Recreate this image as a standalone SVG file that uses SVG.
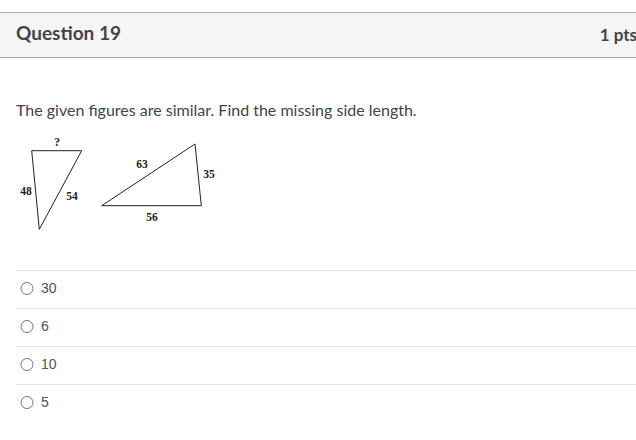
<svg xmlns="http://www.w3.org/2000/svg" width="636" height="440" viewBox="0 0 636 440">
<style>
.ui{font-family:Lato,"Liberation Sans",sans-serif;fill:#2d3b45}
.fig{font-family:"Liberation Serif","Times New Roman",serif;font-size:11.5px;font-weight:bold;fill:#222}
.tri{fill:none;stroke:#222;stroke-width:1}
.sep{stroke:#e1e4e6;stroke-width:1}
.radio{fill:#fff;stroke:#6b7780;stroke-width:1}
.opt{font-family:"Liberation Sans",Arial,sans-serif;font-size:14px;fill:#4a545c}
</style>
<rect width="636" height="440" fill="#fff"/>
<g id="header">
<rect x="0" y="12.5" width="636" height="45" fill="#f5f5f5"/>
<line x1="0" y1="12.5" x2="636" y2="12.5" stroke="#a9a9a9"/>
<line x1="0" y1="57.5" x2="636" y2="57.5" stroke="#a9a9a9"/>
<text class="ui" x="16" y="40" font-size="19" font-weight="bold" style="fill:#3d464d">Question 19</text>
<text class="ui" x="637" y="41" font-size="17" font-weight="bold" text-anchor="end" style="fill:#3d464d">1 pts</text>
</g>
<text class="ui" x="16" y="116" font-size="16" style="fill:#3d464d">The given figures are similar. Find the missing side length.</text>
<g id="triangle-left">
<polygon class="tri" points="31.7,150.7 81.7,150.7 39.3,229.3"/>
<text class="fig" x="57" y="146" text-anchor="middle">?</text>
<text class="fig" x="26" y="195" text-anchor="middle">48</text>
<text class="fig" x="72" y="200" text-anchor="middle">54</text>
</g>
<g id="triangle-right">
<polygon class="tri" points="101.7,205.7 195,144 201.3,205.7"/>
<text class="fig" x="142" y="168" text-anchor="middle">63</text>
<text class="fig" x="209" y="178" text-anchor="middle">35</text>
<text class="fig" x="152" y="221" text-anchor="middle">56</text>
</g>
<g id="options">
<line class="sep" x1="16" y1="270.5" x2="636" y2="270.5"/>
<line class="sep" x1="16" y1="308.5" x2="636" y2="308.5"/>
<line class="sep" x1="16" y1="346.5" x2="636" y2="346.5"/>
<line class="sep" x1="16" y1="384.5" x2="636" y2="384.5"/>
<circle class="radio" cx="27" cy="288.5" r="6"/>
<text class="opt" x="41" y="293">30</text>
<circle class="radio" cx="27" cy="326.5" r="6"/>
<text class="opt" x="41" y="331">6</text>
<circle class="radio" cx="27" cy="364.5" r="6"/>
<text class="opt" x="41" y="369">10</text>
<circle class="radio" cx="27" cy="402.5" r="6"/>
<text class="opt" x="41" y="407">5</text>
</g>
</svg>
